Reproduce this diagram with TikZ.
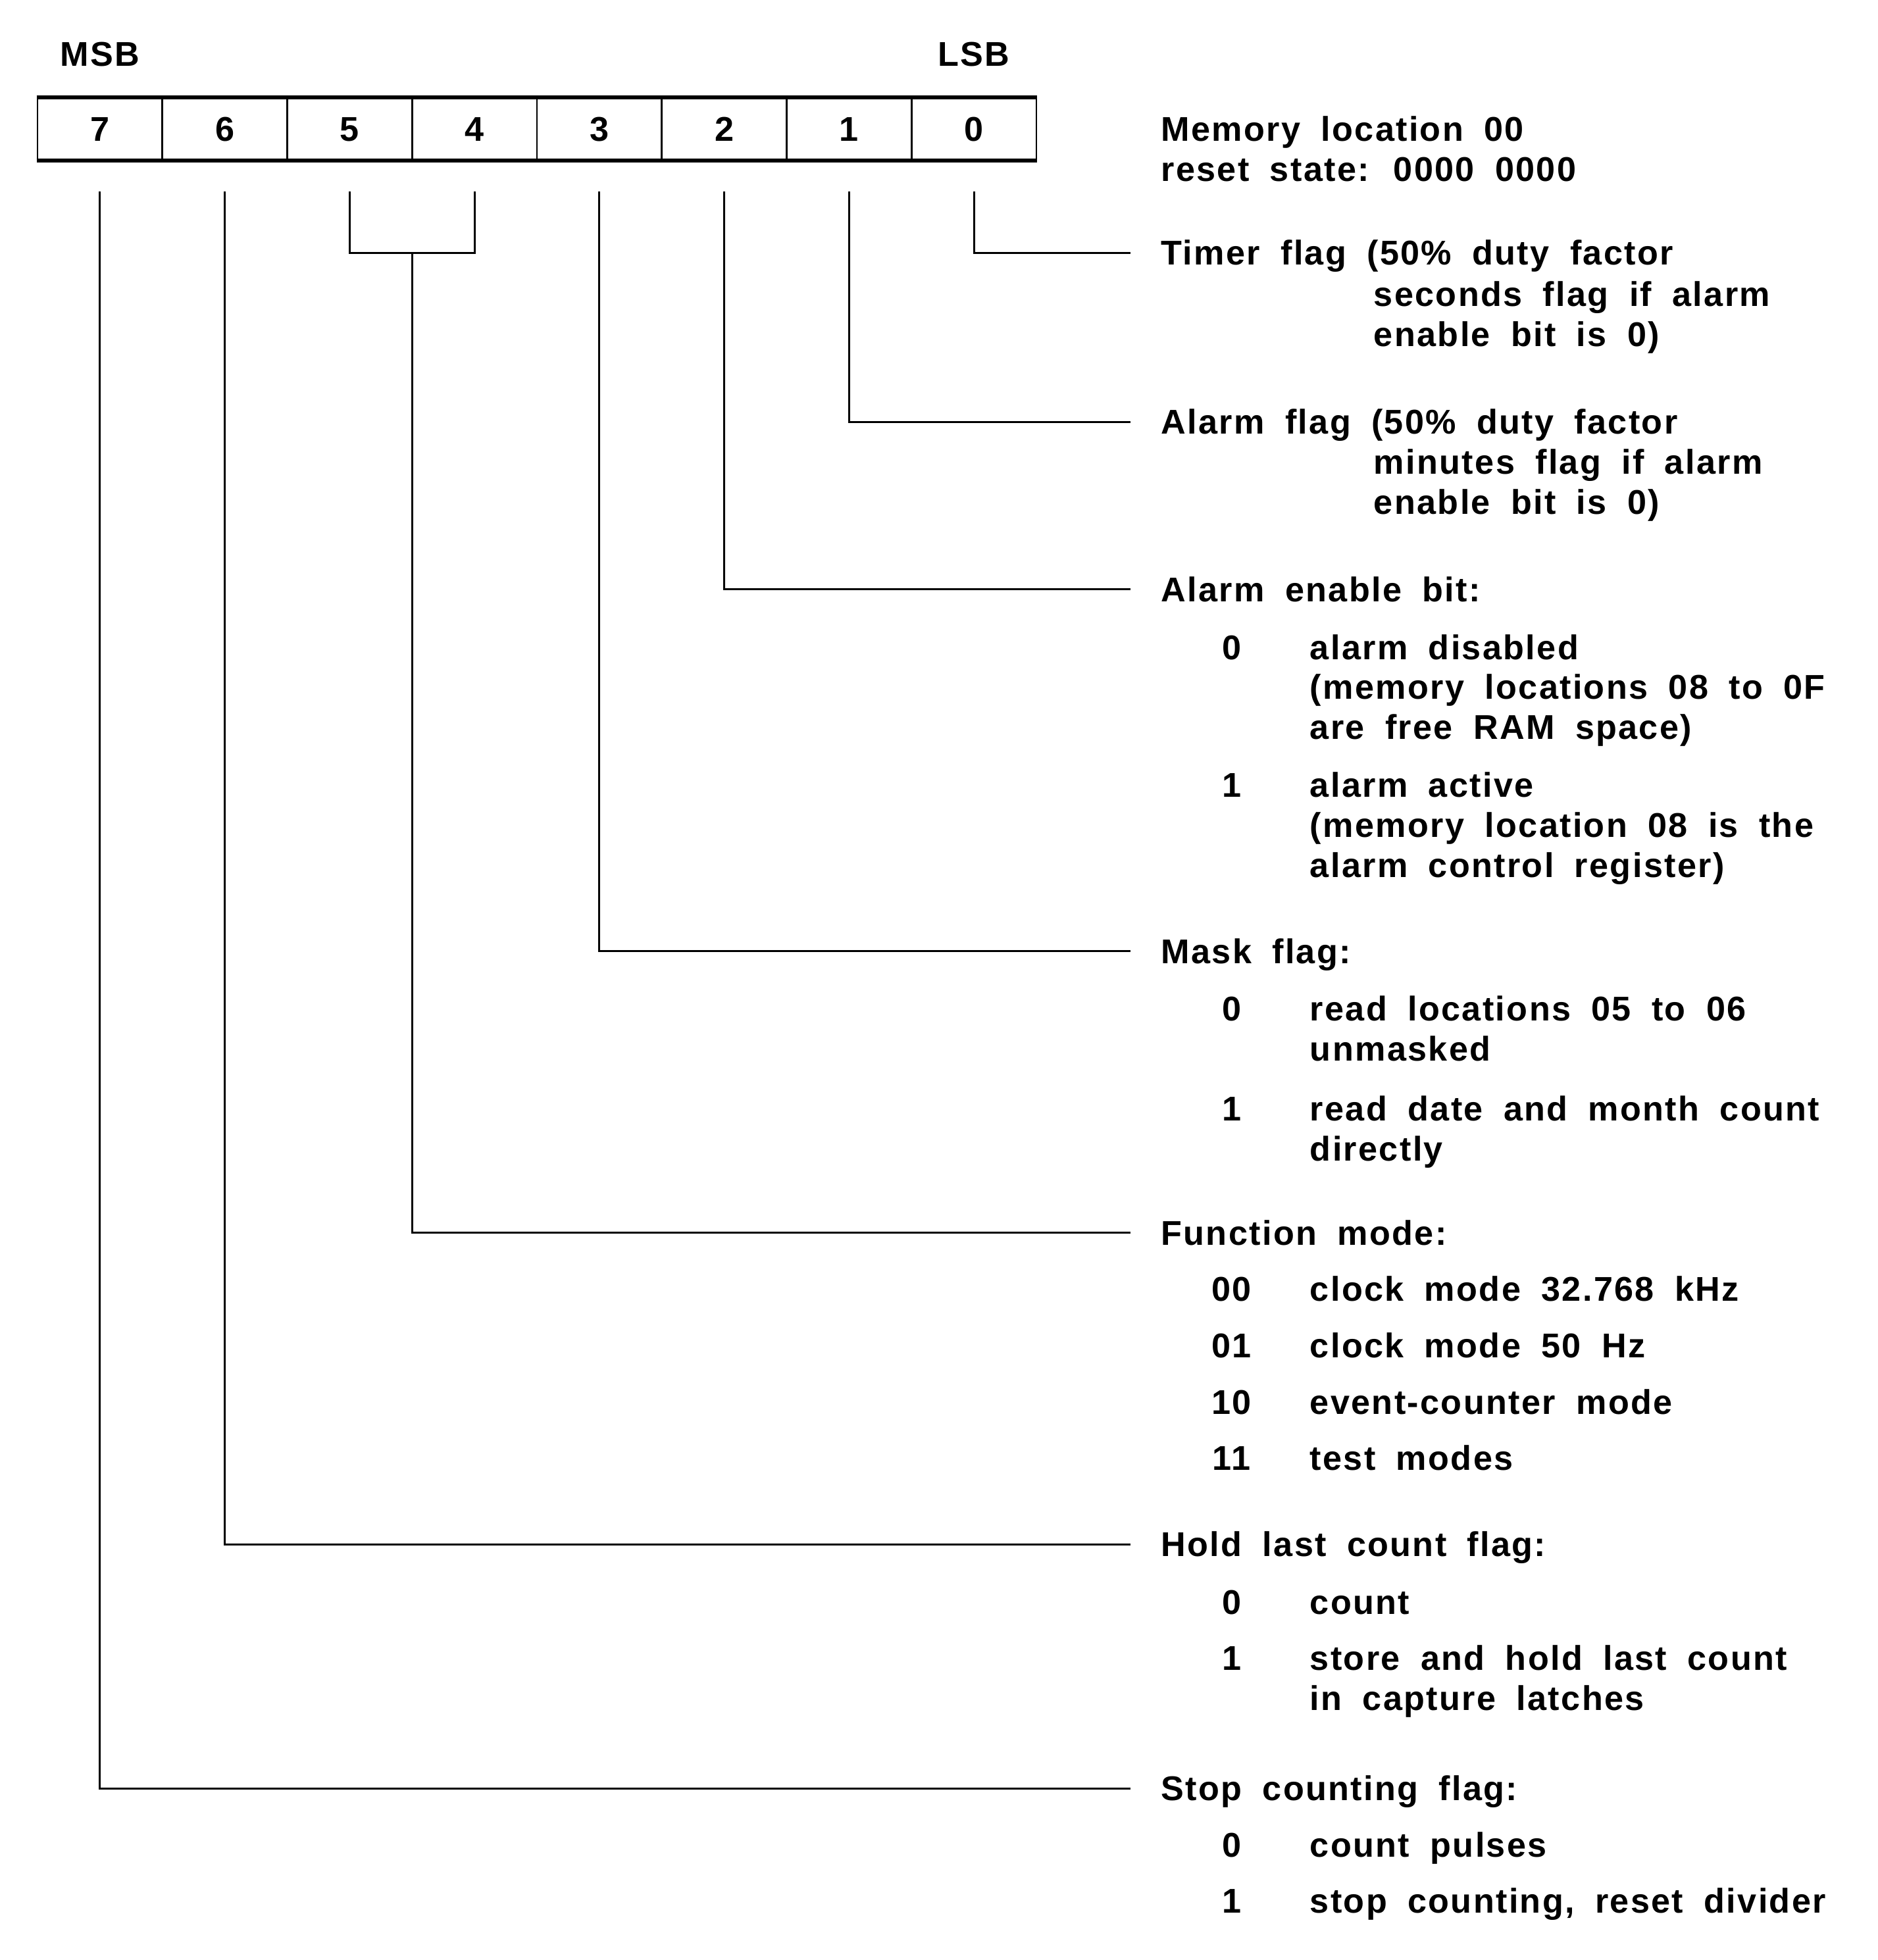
\documentclass[tikz,border=0pt]{standalone}
\usepackage{fontspec}
\setmainfont{Liberation Sans}[LetterSpace=4.5]
\usetikzlibrary{positioning}
\tikzset{%
	bitbox/.style = {draw, rectangle, minimum width=0.9975cm, minimum height=0.49cm, inner sep=0pt, line width=0.4pt, text height=5.58pt, text depth=0pt},
	leader/.style = {line width=0.45pt},
	txt/.style    = {anchor=west, inner sep=0pt, text height=5.58pt, text depth=0pt},
	val/.style    = {anchor=center, inner sep=0pt, text height=5.58pt, text depth=0pt},
}
\newcommand{\regfont}{\fontsize{7.8}{9}\selectfont\bfseries\spaceskip=0.6em plus 0.1em\relax}

\begin{document}
\begin{tikzpicture}[x=0.01cm, y=-0.01cm, every node/.append style={font=\regfont}]
	\useasboundingbox (0,0) rectangle (1500,1566.2);
	
	% register bits
	\foreach \b [count=\i from 0] in {7,...,0} \node[bitbox] (b\b) at ({79.9+99.75*\i},103) {\b};
	\draw[line width=0.8pt] (b7.north west) -- (b0.north east) (b7.south west) -- (b0.south east);
	\node[val] (msb) at (80,43) {MSB};
	\node[val] (lsb) at (778,43) {LSB};
	
	% headings
	\node[txt] (mem)   at (927,103)  {Memory location 00};
	\node[txt] (reset) at (927,135)  {reset state: 0000 0000};
	\node[txt] (timer) at (927,202)  {Timer flag (50\% duty factor};
	\node[txt] (alarm) at (927,337)  {Alarm flag (50\% duty factor};
	\node[txt] (aen)   at (927,471)  {Alarm enable bit:};
	\node[txt] (mask)  at (927,760)  {Mask flag:};
	\node[txt] (func)  at (927,985)  {Function mode:};
	\node[txt] (hold)  at (927,1234) {Hold last count flag:};
	\node[txt] (stop)  at (927,1429) {Stop counting flag:};
	
	\foreach \y/\t [count=\i] in {235/seconds flag if alarm, 267/enable bit is 0), 369/minutes flag if alarm, 401/enable bit is 0)}
		\node[txt] (c\i) at (1097,\y) {\t};
	
	\foreach \y/\v [count=\i] in {517/0, 627/1, 806/0, 886/1, 1030/00, 1075/01, 1120/10, 1165/11, 1280/0, 1325/1, 1474/0, 1519/1}
		\node[val] (v\i) at (984,\y) {\v};
	
	\foreach \y/\t [count=\i] in {517/alarm disabled, 549/(memory locations 08 to 0F, 581/are free RAM space), 627/alarm active, 659/(memory location 08 is the, 691/alarm control register), 806/read locations 05 to 06, 838/unmasked, 886/read date and month count, 918/directly, 1030/clock mode 32.768 kHz, 1075/clock mode 50 Hz, 1120/event-counter mode, 1165/test modes, 1280/count, 1325/store and hold last count, 1357/in capture latches, 1474/count pulses, 1519/{stop counting, reset divider}}
		\node[txt] (d\i) at (1046,\y) {\t};
	
	% leaders
	\draw[leader] ([yshift=-0.25cm]b0.south) |- ([xshift=-0.24cm]timer.west);
	\draw[leader] ([yshift=-0.25cm]b1.south) |- ([xshift=-0.24cm]alarm.west);
	\draw[leader] ([yshift=-0.25cm]b2.south) |- ([xshift=-0.24cm]aen.west);
	\draw[leader] ([yshift=-0.25cm]b3.south) |- ([xshift=-0.24cm]mask.west);
	\coordinate (fork) at (329.5,202);
	\draw[leader] ([yshift=-0.25cm]b5.south) |- (fork) -| ([yshift=-0.25cm]b4.south);
	\draw[leader] (fork) |- ([xshift=-0.24cm]func.west);
	\draw[leader] ([yshift=-0.25cm]b6.south) |- ([xshift=-0.24cm]hold.west);
	\draw[leader] ([yshift=-0.25cm]b7.south) |- ([xshift=-0.24cm]stop.west);
\end{tikzpicture}
\end{document}
